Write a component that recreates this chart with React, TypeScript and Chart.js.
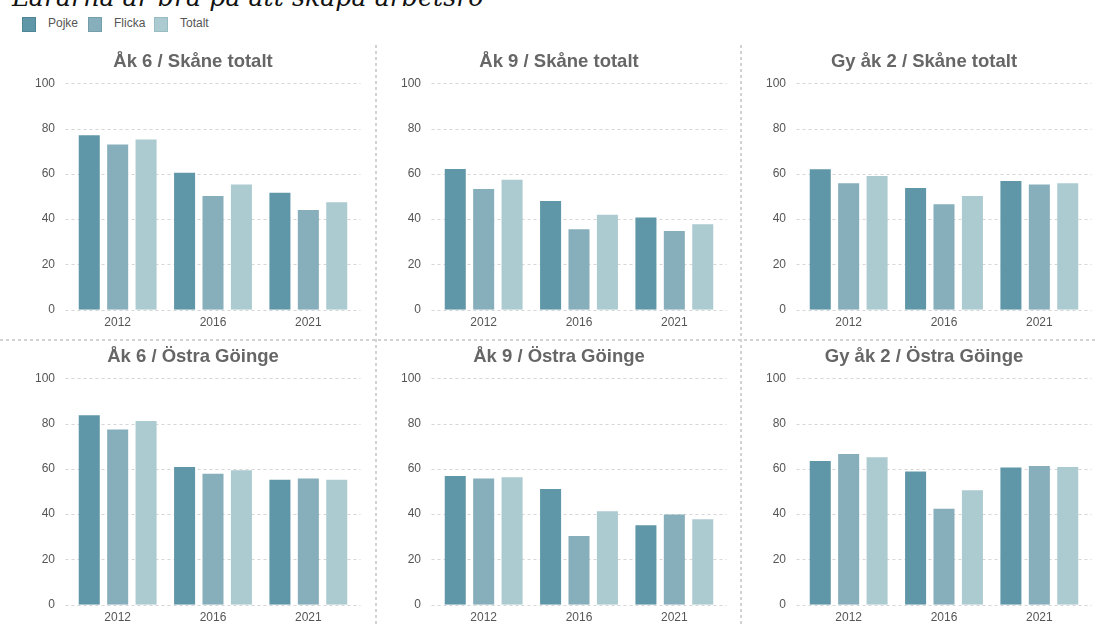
import React, { useEffect, useRef } from "react";
import { Chart, registerables } from "chart.js";

Chart.register(...registerables);

// ---- Data ----
const years = ["2012", "2016", "2021"];
const seriesNames = ["Pojke", "Flicka", "Totalt"];
const seriesColors = ["#5f96a8", "#86aebb", "#abcbd0"];
const legendBorders = ["#4f8596", "#739fad", "#97bcc2"];
const yTicks = [0, 20, 40, 60, 80, 100];

const ak6SkanePojke = [77, 60.5, 51.7];
const ak6SkaneFlicka = [73, 50.2, 44];
const ak6SkaneTotalt = [75.1, 55.3, 47.5];

const ak9SkanePojke = [62.1, 48, 40.7];
const ak9SkaneFlicka = [53.3, 35.6, 34.8];
const ak9SkaneTotalt = [57.4, 41.9, 37.8];

const gySkanePojke = [62, 53.7, 56.8];
const gySkaneFlicka = [55.8, 46.6, 55.3];
const gySkaneTotalt = [59, 50.2, 55.8];

const ak6OGPojke = [83.6, 60.8, 55.2];
const ak6OGFlicka = [77.4, 57.8, 55.7];
const ak6OGTotalt = [81.1, 59.4, 55.2];

const ak9OGPojke = [56.8, 51.1, 35.1];
const ak9OGFlicka = [55.7, 30.4, 39.9];
const ak9OGTotalt = [56.3, 41.3, 37.7];

const gyOGPojke = [63.5, 58.8, 60.6];
const gyOGFlicka = [66.5, 42.4, 61.3];
const gyOGTotalt = [65.1, 50.5, 60.8];

const panels = [
  { title: "Åk 6 / Skåne totalt", series: [ak6SkanePojke, ak6SkaneFlicka, ak6SkaneTotalt], left: 25, top: 51 },
  { title: "Åk 9 / Skåne totalt", series: [ak9SkanePojke, ak9SkaneFlicka, ak9SkaneTotalt], left: 391, top: 51 },
  { title: "Gy åk 2 / Skåne totalt", series: [gySkanePojke, gySkaneFlicka, gySkaneTotalt], left: 756, top: 51 },
  { title: "Åk 6 / Östra Göinge", series: [ak6OGPojke, ak6OGFlicka, ak6OGTotalt], left: 25, top: 346 },
  { title: "Åk 9 / Östra Göinge", series: [ak9OGPojke, ak9OGFlicka, ak9OGTotalt], left: 391, top: 346 },
  { title: "Gy åk 2 / Östra Göinge", series: [gyOGPojke, gyOGFlicka, gyOGTotalt], left: 756, top: 346 },
];

const FONT = "'Liberation Sans', Arial, Helvetica, sans-serif";
const CANVAS_W = 336;
const CANVAS_H = 281;

const extGridPlugin = {
  id: "extGrid",
  beforeDatasetsDraw(chart: any) {
    const { ctx, chartArea, scales } = chart;
    const y = scales.y;
    ctx.save();
    ctx.strokeStyle = "#d6d6d6";
    ctx.lineWidth = 1;
    ctx.setLineDash([3, 3]);
    y.ticks.forEach((t: any) => {
      const py = Math.round(y.getPixelForValue(t.value)) + 0.5;
      ctx.beginPath();
      ctx.moveTo(chartArea.left - 4.5, py);
      ctx.lineTo(chartArea.right + 4.5, py);
      ctx.stroke();
    });
    ctx.restore();
  },
};

function Panel({ title, series, left, top }: { title: string; series: number[][]; left: number; top: number }) {
  const ref = useRef<HTMLCanvasElement | null>(null);
  useEffect(() => {
    if (!ref.current) return;
    const chart = new Chart(ref.current, {
      type: "bar",
      data: {
        labels: years,
        datasets: series.map((d, i) => ({
          label: seriesNames[i],
          data: d,
          backgroundColor: seriesColors[i],
          borderWidth: 0,
          categoryPercentage: 0.894,
          barPercentage: 0.74,
        })),
      },
      options: {
        responsive: false,
        animation: false,
        devicePixelRatio: 1,
        layout: { padding: { left: 5, right: 5, top: 0, bottom: 0 } },
        plugins: {
          legend: { display: false },
          tooltip: { enabled: false },
          title: {
            display: true,
            text: title,
            color: "#666666",
            font: { family: FONT, size: 18.5, weight: "bold" },
            padding: { top: 0, bottom: 10 },
          },
        },
        scales: {
          x: {
            grid: { display: false, drawTicks: false },
            border: { display: false },
            ticks: { padding: 6, color: "#555555", font: { family: FONT, size: 12 } },
            afterFit: (s: any) => {
              s.height = 20;
            },
          },
          y: {
            min: 0,
            max: 100,
            afterBuildTicks: (s: any) => {
              s.ticks = yTicks.map((v) => ({ value: v }));
            },
            grid: { display: false, drawTicks: false },
            border: { display: false },
            ticks: { padding: 15, color: "#555555", font: { family: FONT, size: 12 } },
            afterFit: (s: any) => {
              s.width = 40;
            },
          },
        },
      } as any,
      plugins: [extGridPlugin],
    });
    return () => chart.destroy();
  }, [title, series]);
  return (
    <canvas
      ref={ref}
      width={CANVAS_W}
      height={CANVAS_H}
      style={{ position: "absolute", left, top, width: CANVAS_W, height: CANVAS_H, display: "block" }}
    />
  );
}

const dotV = "repeating-linear-gradient(to bottom, #d2d2d2 0px, #d2d2d2 3px, transparent 3px, transparent 6px)";
const dotH = "repeating-linear-gradient(to right, #d2d2d2 0px, #d2d2d2 3px, transparent 3px, transparent 6px)";

export default function App() {
  const legendPos = [
    { sq: 22, tx: 48 },
    { sq: 88, tx: 114 },
    { sq: 154, tx: 180 },
  ];
  return (
    <div
      style={{
        position: "fixed",
        left: 0,
        top: 0,
        width: 1096,
        height: 625,
        overflow: "hidden",
        background: "#ffffff",
      }}
    >
      <div
        style={{
          position: "absolute",
          left: 12,
          top: -15,
          fontFamily: "'DejaVu Serif', serif",
          fontStyle: "italic",
          fontSize: 25.3,
          lineHeight: "25.3px",
          color: "#111",
          whiteSpace: "nowrap",
        }}
      >
        Lärarna är bra på att skapa arbetsro
      </div>
      {seriesNames.map((n, i) => (
        <React.Fragment key={n}>
          <div
            style={{
              position: "absolute",
              left: legendPos[i].sq,
              top: 17,
              width: 12,
              height: 13,
              background: seriesColors[i],
              border: `1px solid ${legendBorders[i]}`,
            }}
          />
          <div
            style={{
              position: "absolute",
              left: legendPos[i].tx,
              top: 16,
              fontFamily: FONT,
              fontSize: 12,
              lineHeight: "15px",
              color: "#555",
            }}
          >
            {n}
          </div>
        </React.Fragment>
      ))}
      <div style={{ position: "absolute", left: 375, top: 45, width: 2, height: 580, background: dotV }} />
      <div style={{ position: "absolute", left: 740, top: 45, width: 2, height: 580, background: dotV }} />
      <div style={{ position: "absolute", left: 0, top: 339, width: 1096, height: 2, background: dotH }} />
      {panels.map((p) => (
        <Panel key={p.title} title={p.title} series={p.series} left={p.left} top={p.top} />
      ))}
    </div>
  );
}
